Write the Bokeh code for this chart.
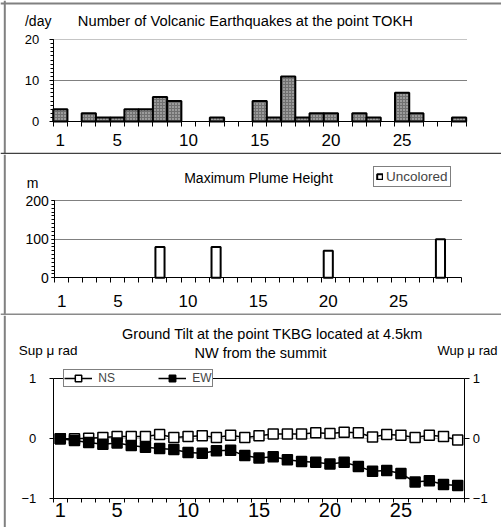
from bokeh.plotting import figure
from bokeh.layouts import column
from bokeh.models import (Range1d, FixedTicker, Label, Legend, LegendItem,
                          LinearAxis, Span)
from bokeh.embed import file_html
from bokeh.resources import INLINE

# ---------------- data ----------------
days = list(range(1, 30))
x_tick_labels = [1, 5, 10, 15, 20, 25]
quakes = [3, 0, 2, 1, 1, 3, 3, 6, 5, 0, 0, 1, 0, 0, 5, 1, 11, 1, 2, 2,
          0, 2, 1, 0, 7, 2, 0, 0, 1]
quake_ticks = [0, 10, 20]
plume_days = [8, 12, 20, 28]
plume_heights = [80, 80, 70, 100]
plume_ticks = [0, 100, 200]
tilt_ns = [0.00, 0.00, 0.01, 0.02, 0.04, 0.04, 0.04, 0.07, 0.02, 0.04,
           0.05, 0.02, 0.06, 0.02, 0.05, 0.08, 0.08, 0.08, 0.10, 0.09,
           0.11, 0.10, 0.03, 0.07, 0.06, 0.02, 0.06, 0.04, -0.02]
tilt_ew = [0.00, -0.03, -0.06, -0.09, -0.07, -0.11, -0.14, -0.16, -0.18, -0.23,
           -0.24, -0.20, -0.19, -0.28, -0.32, -0.30, -0.35, -0.38, -0.39, -0.42,
           -0.39, -0.46, -0.54, -0.53, -0.58, -0.72, -0.70, -0.76, -0.78]
tilt_ticks = [-1, 0, 1]

FONT = "Liberation Sans"
W = 501
X0, X1 = 0.5, 29.5


class Panel:
    """A figure whose frame fills the canvas; (pxL..pxR, pyB..pyT) is the plot box."""

    def __init__(self, height, pxL, pxR, pyB, pyT, yB, yT):
        self.kx = (X1 - X0) / (pxR - pxL)
        self.ky = (yT - yB) / (pyB - pyT)
        self.pxL, self.pyB, self.yB = pxL, pyB, yB
        xr = Range1d(X0 - pxL * self.kx, X0 + (W - pxL) * self.kx)
        yr = Range1d(yB - (height - pyB) * self.ky, yT + pyT * self.ky)
        p = figure(width=W, height=height, x_range=xr, y_range=yr,
                   toolbar_location=None, output_backend="svg",
                   min_border_left=0, min_border_right=0,
                   min_border_top=0, min_border_bottom=0)
        p.title.visible = False
        p.below = []
        p.left = []
        p.center = []
        p.outline_line_color = None
        p.background_fill_color = "white"
        p.border_fill_color = "white"
        self.p = p

    def fx(self, px):
        return X0 + (px - self.pxL) * self.kx

    def fy(self, py):
        return self.yB + (self.pyB - py) * self.ky

    def xaxis(self, y_at, size, standoff, tick_out=5):
        ax = LinearAxis(fixed_location=y_at, bounds=(X0, X1),
                        ticker=FixedTicker(ticks=x_tick_labels,
                                           minor_ticks=[d - 0.5 for d in days] + [X1]))
        ax.major_tick_out = 0
        ax.major_tick_in = 0
        ax.minor_tick_out = tick_out
        ax.minor_tick_in = 0
        ax.axis_line_color = "black"
        ax.minor_tick_line_color = "black"
        ax.major_label_text_font = FONT
        ax.major_label_text_font_size = size
        ax.major_label_text_color = "black"
        ax.major_label_standoff = standoff
        self.p.add_layout(ax, "below")
        return ax

    def yaxis(self, x_at, ticks, minor, bounds, size, standoff, tick_out,
              side="left"):
        ay = LinearAxis(fixed_location=x_at, bounds=bounds,
                        ticker=FixedTicker(ticks=ticks, minor_ticks=minor))
        ay.major_tick_out = tick_out
        ay.major_tick_in = 0
        ay.minor_tick_out = 3
        ay.minor_tick_in = 0
        ay.axis_line_color = "black"
        ay.major_tick_line_color = "black"
        ay.minor_tick_line_color = "black"
        ay.major_label_text_font = FONT
        ay.major_label_text_font_size = size
        ay.major_label_text_color = "black"
        ay.major_label_standoff = standoff
        self.p.add_layout(ay, side)
        return ay

    def hgrid(self, values, color, dash="1 1", width=1):
        # bounded horizontal grid lines (only between the two plot edges)
        for v in values:
            g = LinearAxis(fixed_location=v, bounds=(X0, X1),
                           ticker=FixedTicker(ticks=[], minor_ticks=[]),
                           level="underlay")
            g.axis_line_color = color
            g.axis_line_dash = dash
            g.axis_line_width = width
            g.major_tick_line_color = None
            g.minor_tick_line_color = None
            g.major_label_text_font_size = "0px"
            self.p.add_layout(g, "below")

    def text(self, px, py, t, size="13px", align="center"):
        self.p.add_layout(Label(x=self.fx(px), y=self.fy(py), text=t,
                                text_align=align, text_baseline="middle",
                                text_font=FONT, text_font_size=size,
                                text_color="black"))

    def hline(self, py, color, width):
        self.p.add_layout(Span(location=self.fy(py), dimension="width",
                               line_color=color, line_width=width))

    def vline(self, px, color, width):
        self.p.add_layout(Span(location=self.fx(px), dimension="height",
                               line_color=color, line_width=width))


# ---------------- panel 1 : earthquakes ----------------
P1 = Panel(154, 52.7, 465.7, 121, 39, 0, 20)
p1 = P1.p
P1.hgrid([10], "black")
P1.hgrid([20], "#8a8a8a")
qd = [d for d, q in zip(days, quakes) if q > 0]
qv = [q for q in quakes if q > 0]
p1.vbar(x=qd, top=qv, bottom=0, width=1, fill_color="#707070",
        hatch_pattern="dot", hatch_color="#dcdcdc", hatch_scale=3, hatch_weight=1,
        line_color="black", line_width=2)
P1.xaxis(0, "17px", 7)
P1.yaxis(X0, quake_ticks, list(range(0, 21)), (0, 20), "13px", 10, 4)
P1.text(245, 20, "Number of Volcanic Earthquakes at the point TOKH", "14.7px")
P1.text(37.7, 20, "/day", "14px")
P1.vline(4.3, "#808080", 2)
P1.hline(3, "#808080", 2)
P1.hline(153, "#404040", 1.5)

# ---------------- panel 2 : plume ----------------
P2 = Panel(161, 54.3, 461, 123.3, 46, 0, 200)
p2 = P2.p
P2.hgrid([100, 200], "black")
r2 = p2.vbar(x=plume_days, top=plume_heights, bottom=0, width=0.65,
             fill_color="white", line_color="black", line_width=2)
P2.xaxis(0, "17px", 12)
P2.yaxis(X0, plume_ticks, list(range(0, 201, 10)), (0, 200), "14px", 3, 3)
leg2 = Legend(items=[LegendItem(label="Uncolored", renderers=[r2])],
              location=(373, 161 - 33), orientation="horizontal",
              glyph_width=7, glyph_height=7, label_standoff=3, padding=2,
              margin=0, spacing=0, border_line_color="black", border_line_width=1,
              background_fill_alpha=1, label_text_font=FONT,
              label_text_font_size="13.5px", label_height=10)
p2.add_layout(leg2)
P2.text(258, 23, "Maximum Plume Height", "14px")
P2.text(32, 28, "m", "14px")
P2.vline(4.3, "#808080", 2)
P2.hline(160, "#8a8a8a", 2)

# ---------------- panel 3 : tilt ----------------
P3 = Panel(212, 52.7, 464.3, 183.3, 63.3, -1, 1)
p3 = P3.p
P3.hgrid([0], "#c8c8c8", dash="solid")
P3.hgrid([1], "black", dash="solid")
l_ns = p3.line(days, tilt_ns, line_color="black", line_width=1.5)
s_ns = p3.scatter(days, tilt_ns, marker="square", size=10, fill_color="white",
                  line_color="black", line_width=1.5)
l_ew = p3.line(days, tilt_ew, line_color="black", line_width=1.5)
s_ew = p3.scatter(days, tilt_ew, marker="square", size=10, fill_color="black",
                  line_color="black", line_width=1.5)
P3.xaxis(-1, "20px", 0, 4)
ly = P3.yaxis(X0, tilt_ticks, [], (-1, 1), "13px", 13, 4)
ly.major_label_overrides = {-1: "\u22121"}
ry = P3.yaxis(X1, tilt_ticks, [], (-1, 1), "13px", 3, 5, side="right")
ry.major_label_overrides = {-1: "\u22121"}
leg3 = Legend(items=[LegendItem(label="NS", renderers=[l_ns, s_ns]),
                     LegendItem(label="EW", renderers=[l_ew, s_ew])],
              location=(63.3, 212 - 72), orientation="horizontal",
              glyph_width=28, glyph_height=16, label_standoff=6, padding=0,
              margin=0, spacing=40, border_line_color="black", border_line_width=1,
              background_fill_alpha=1, label_text_font=FONT,
              label_text_font_size="12px", label_height=10)
p3.add_layout(leg3)
P3.text(272, 18, "Ground Tilt at the point TKBG located at 4.5km", "14.5px")
P3.text(260, 37, "NW from the summit", "14.5px")
P3.text(18.3, 35, "Sup \u03bc rad", "13.5px", "left")
P3.text(437, 35, "Wup \u03bc rad", "13px", "left")
P3.vline(4.3, "#808080", 2)

layout = column(p1, p2, p3, spacing=0)
open("out.html", "w").write(file_html(layout, INLINE))
